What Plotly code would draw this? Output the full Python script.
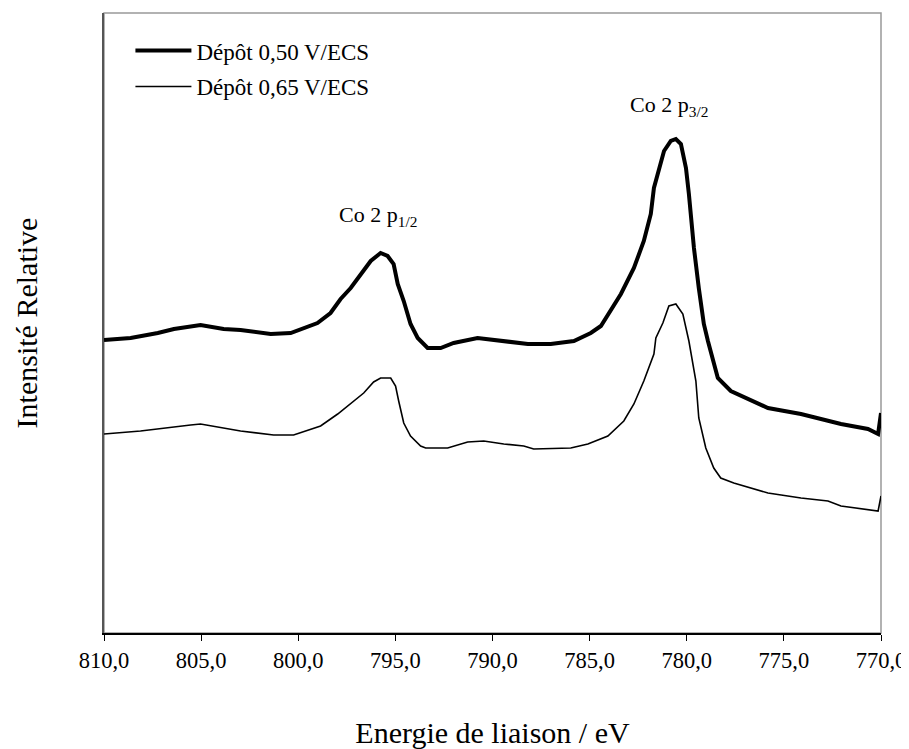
import plotly.graph_objects as go

# Binding energy (eV) and relative intensity (arbitrary units)
energy_050 = [810.00, 808.63, 807.23, 806.40, 805.03, 803.84, 802.97, 801.42, 800.39, 799.01,
              798.34, 797.82, 797.30, 796.79, 796.27, 795.76, 795.40, 795.09, 794.88, 794.57,
              794.22, 793.85, 793.34, 792.67, 792.00, 790.77, 789.58, 788.18, 787.00, 785.81,
              784.94, 784.42, 783.39, 782.72, 782.21, 781.85, 781.69, 781.43, 781.17, 780.82,
              780.56, 780.30, 780.04, 779.89, 779.63, 779.38, 779.12, 778.91, 778.40, 777.73,
              775.82, 774.12, 772.06, 770.67, 770.15, 770.00]
intensity_050 = [293, 295, 300, 304, 308, 304, 303, 299, 300, 310,
                 320, 334, 345, 359, 372, 380, 377, 369, 349, 332,
                 309, 295, 285, 285, 290, 295, 292, 289, 289, 292,
                 300, 307, 339, 365, 392, 419, 445, 462, 482, 492,
                 494, 489, 465, 439, 385, 345, 309, 292, 255, 242,
                 225, 219, 209, 204, 199, 220]

energy_065 = [810.00, 808.12, 805.54, 805.03, 802.97, 801.27, 800.24, 798.85, 797.97, 797.15,
              796.63, 796.12, 795.76, 795.24, 794.99, 794.83, 794.57, 794.22, 793.70, 793.44,
              792.31, 791.28, 790.45, 789.42, 788.39, 787.88, 785.97, 785.09, 784.06, 783.24,
              782.72, 782.21, 781.69, 781.59, 781.23, 780.92, 780.56, 780.20, 779.89, 779.53,
              779.38, 779.02, 778.61, 778.25, 777.58, 775.82, 774.12, 772.73, 772.06, 770.15,
              770.00]
intensity_065 = [199, 202, 208, 209, 202, 198, 198, 207, 219, 232,
                 240, 251, 255, 255, 247, 232, 210, 197, 187, 185,
                 185, 191, 192, 189, 187, 184, 185, 189, 197, 212,
                 229, 252, 279, 295, 310, 327, 329, 319, 292, 252,
                 215, 185, 165, 155, 150, 140, 135, 132, 127, 122,
                 137]

tick_values = [810, 805, 800, 795, 790, 785, 780, 775, 770]
tick_labels = [f"{v:.1f}".replace(".", ",") for v in tick_values]

series_names = ["Dépôt 0,50 V/ECS", "Dépôt 0,65 V/ECS"]
peak_labels = ["Co 2 p<sub>1/2</sub>", "Co 2 p<sub>3/2</sub>"]
peak_positions = [795.87, 780.9]
peak_label_heights = [401, 511]

FONT = "Liberation Serif, Times New Roman, serif"

fig = go.Figure()
fig.add_trace(go.Scatter(x=energy_050, y=intensity_050, mode="lines", name=series_names[0],
                         line=dict(color="black", width=4), legendgroup="a"))
fig.add_trace(go.Scatter(x=energy_065, y=intensity_065, mode="lines", name=series_names[1],
                         line=dict(color="black", width=1.6), legendgroup="b"))

for lab, px, py in zip(peak_labels, peak_positions, peak_label_heights):
    fig.add_annotation(x=px, y=py, text=lab, showarrow=False, xanchor="center", yanchor="bottom",
                       font=dict(family=FONT, size=22, color="black"))

fig.update_layout(
    width=901, height=741,
    margin=dict(l=96, r=28, t=5, b=116, autoexpand=False),
    paper_bgcolor="white", plot_bgcolor="white",
    font=dict(family=FONT, color="black"),
    showlegend=True,
    legend=dict(x=0.034, y=0.974, xanchor="left", yanchor="top",
                bgcolor="rgba(0,0,0,0)", font=dict(family=FONT, size=23, color="black"),
                tracegroupgap=3, itemwidth=56),
    xaxis=dict(range=[810, 770], tickvals=tick_values, ticktext=tick_labels,
               ticks="outside", ticklen=6, tickwidth=1, tickcolor="black",
               showline=True, linecolor="black", linewidth=1.5, mirror=False,
               showgrid=False, zeroline=False, automargin=False,
               tickfont=dict(family=FONT, size=22.5, color="black"),
               title=dict(text="Energie de liaison / eV", font=dict(family=FONT, size=30), standoff=53)),
    yaxis=dict(range=[0, 620], showticklabels=False, ticks="", showgrid=False, zeroline=False,
               showline=True, linecolor="#555555", linewidth=1.5, automargin=False,
               title=dict(text="Intensité Relative", font=dict(family=FONT, size=30), standoff=56)),
    shapes=[dict(type="rect", xref="paper", yref="paper", x0=0, y0=0, x1=1, y1=1,
                 line=dict(color="#999999", width=1.5), layer="below")],
)

fig.write_html("out.html")
